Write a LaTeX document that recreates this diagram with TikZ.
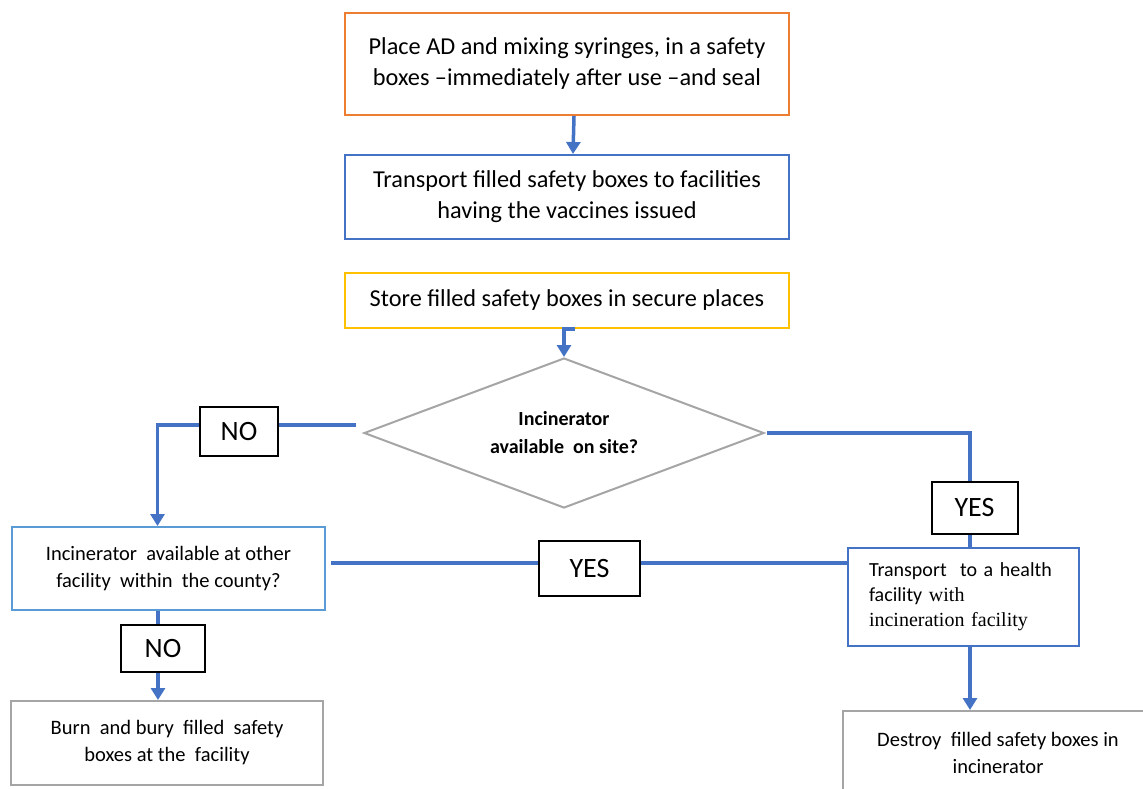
\documentclass[tikz,border=0pt]{standalone}
\usepackage{fontspec}
\setmainfont{Carlito}
\newfontfamily\timesfont{Liberation Serif}
\usetikzlibrary{shapes.geometric,arrows.meta}
\definecolor{orangeline}{HTML}{ED7D31}
\definecolor{blueline}{HTML}{4472C4}
\definecolor{lightblue}{HTML}{5B9BD5}
\definecolor{goldline}{HTML}{FFC000}
\definecolor{greyline}{HTML}{A5A5A5}
\tikzset{
  box/.style={draw, line width=2pt, inner sep=4pt, align=center},
  bigtext/.style={font=\fontsize{24.3}{31}\selectfont},
  smalltext/.style={font=\fontsize{20.5}{27}\selectfont},
  answer/.style={draw=black, line width=2pt, fill=white, inner sep=0pt,
    font=\fontsize{28}{28}\selectfont},
  flow/.style={draw=blueline, line width=3.5pt},
  flowarrow/.style={flow, -{Triangle[width=14pt,length=12pt]}},
}
\begin{document}
\begin{tikzpicture}[x=1pt, y=-1pt]
  \useasboundingbox (0,0) rectangle (1143,788);
  \clip (0,0) rectangle (1143,788);

  % process boxes
  \node[box, bigtext, draw=orangeline, minimum width=444pt, minimum height=102pt]
    (place) at (567,64) {Place AD and mixing syringes, in a safety\\boxes --immediately after use --and seal};
  \node[box, bigtext, draw=blueline, minimum width=444pt, minimum height=84pt]
    (ship) at (567,197) {Transport filled safety boxes to facilities\\having the vaccines issued};
  \node[box, bigtext, draw=goldline, minimum width=444pt, minimum height=55pt]
    (store) at (567,300.5) {Store filled safety boxes in secure places};

  % decision
  \node[draw=greyline, line width=2pt, shape=diamond, aspect=2.67, inner sep=0pt,
    minimum width=400pt, minimum height=150pt, align=center,
    font=\fontsize{20}{28}\selectfont\bfseries]
    (onsite) at (564,433) {Incinerator\\available~ on site?};

  \node[box, smalltext, draw=lightblue, minimum width=313pt, minimum height=83pt]
    (other) at (168.5,568.5) {Incinerator~ available at other\\facility~ within~ the county?};
  \node[box, smalltext, draw=greyline, minimum width=312pt, minimum height=84pt]
    (burn) at (167,743) {Burn~ and bury~ filled~ safety\\boxes at the~ facility};
  \node[box, draw=blueline, minimum width=231pt, minimum height=98pt,
    text width=205pt, align=left, font=\fontsize{20}{25}\selectfont]
    (haul) at (963.5,596.5) {\hspace*{8pt}Transport~ to a health\\\hspace*{8pt}facility {\timesfont with}\\\hspace*{8pt}{\timesfont incineration facility}};
  \node[box, smalltext, draw=greyline, minimum width=310pt, minimum height=84pt]
    (destroy) at (998,753) {Destroy~ filled safety boxes in\\incinerator};

  % loose ends of the branch lines
  \coordinate (noStart) at (356,425);
  \coordinate (yesStart) at (767,433);
  \coordinate (midStart) at (331,563);

  % connectors
  \draw[flowarrow] ([xshift=7pt]place.south) -- ([xshift=6pt]ship.north);
  \draw[flowarrow] ([xshift=8pt]store.south) -| (onsite.north);
  \draw[flowarrow] (noStart) -| ([xshift=-11pt]other.north);
  \draw[flow] (yesStart) -| ([xshift=6.5pt]haul.north);
  \draw[flow] (midStart) -- (midStart -| haul.west);
  \draw[flowarrow] ([xshift=-10.5pt]other.south) -- ([xshift=-9pt]burn.north);
  \draw[flowarrow] ([xshift=6.5pt]haul.south) -- ([xshift=-28pt]destroy.north);

  % branch labels
  \node[answer, minimum width=78pt, minimum height=49pt] (no1) at (239,431.5) {NO};
  \node[answer, minimum width=84pt, minimum height=47pt] (no2) at (163,648.5) {NO};
  \node[answer, minimum width=86pt, minimum height=52pt] (yes1) at (974.5,508) {YES};
  \node[answer, minimum width=101pt, minimum height=55pt] (yes2) at (589.5,568) {YES};
\end{tikzpicture}
\end{document}
